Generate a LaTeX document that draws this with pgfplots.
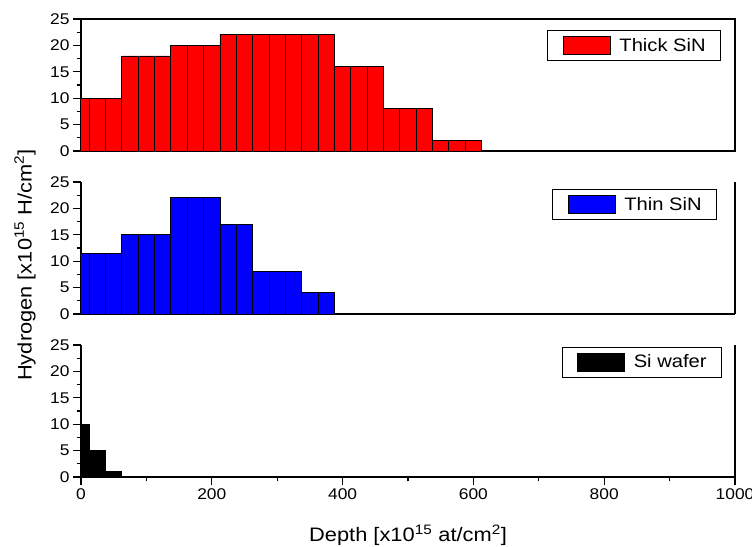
\documentclass[border=0pt]{standalone}
\usepackage{fontspec}
\setmainfont[FakeStretch=1.12]{Liberation Sans}
\usepackage{pgfplots}
\usepackage{pgfplotstable}
\pgfplotsset{compat=1.18}

% hydrogen depth profiles, one table per sample (bin centre, content)
\pgfplotstableread{
x y
0 10
25 10
50 10
75 18
100 18
125 18
150 20
175 20
200 20
225 22
250 22
275 22
300 22
325 22
350 22
375 22
400 16
425 16
450 16
475 8
500 8
525 8
550 2
575 2
600 2
}\thicksin

\pgfplotstableread{
x y
0 11.5
25 11.5
50 11.5
75 15
100 15
125 15
150 22
175 22
200 22
225 17
250 17
275 8
300 8
325 8
350 4
375 4
}\thinsin

\pgfplotstableread{
x y
0 10
25 5
50 1.1
}\siwafer

\newcommand{\tickfont}{\fontsize{15.5}{18}\selectfont}
\newcommand{\labfont}{\fontsize{19.5}{22}\selectfont}
\newcommand{\legfont}{\fontsize{18}{20}\selectfont}

\pgfplotsset{
  panel/.style={
    scale only axis, width=654pt, height=132pt,
    xmin=0, xmax=1000, ymin=0, ymax=25,
    ytick={0,5,...,25}, minor y tick num=1,
    tick align=outside, tick pos=left,
    major tick length=8pt, minor tick length=4.5pt,
    tick style={black, line width=1.1pt},
    axis line style={-, line width=1.2pt},
    ticklabel style={font=\tickfont},
    /pgf/number format/assume math mode=true,
    /pgf/number format/1000 sep={},
    ybar, bar width=25,
    legend style={draw=black, line width=0.6pt, font=\legfont,
      anchor=north east, inner xsep=15pt, inner ysep=5.5pt,
      nodes={inner sep=0pt},
      /tikz/every odd column/.append style={column sep=9pt}},
    legend cell align=left,
  },
  hbar/.style={draw=black, line width=0.9pt, fill=#1,
    legend image code/.code={\draw[##1] (0pt,-9pt) rectangle (47pt,9pt);}},
}

\begin{document}
\begin{tikzpicture}
\useasboundingbox (0pt,0pt) rectangle (752pt,546pt);

% top panel
\begin{axis}[panel, at={(81pt,395pt)}, anchor=south west,
  xtick=\empty, minor xtick={0,100,...,1000},
  legend style={at={(0.9786,0.9167)}}]
\addplot[hbar=red] table[x=x,y=y] {\thicksin};
\addlegendentry{Thick SiN}
\end{axis}

% middle panel
\begin{axis}[panel, at={(81pt,232pt)}, anchor=south west,
  axis x line*=bottom, axis y line*=box,
  xtick=\empty, minor xtick={0,100,...,1000},
  legend style={at={(0.9725,0.947)}}]
\addplot[hbar=blue] table[x=x,y=y] {\thinsin};
\addlegendentry{Thin SiN}
\end{axis}

% bottom panel
\begin{axis}[panel, at={(81pt,69pt)}, anchor=south west,
  axis x line*=bottom, axis y line*=box,
  xtick={0,200,...,1000}, minor x tick num=1,
  legend style={at={(0.980,0.985)}}]
\addplot[hbar=black] table[x=x,y=y] {\siwafer};
\addlegendentry{Si wafer}
\end{axis}

\node[font=\labfont, rotate=90, anchor=center] at (25pt,281pt)
  {Hydrogen [x10\textsuperscript{15} H/cm\textsuperscript{2}]};
\node[font=\labfont, anchor=base] at (408pt,4.3pt)
  {Depth [x10\textsuperscript{15} at/cm\textsuperscript{2}]};
\end{tikzpicture}
\end{document}
